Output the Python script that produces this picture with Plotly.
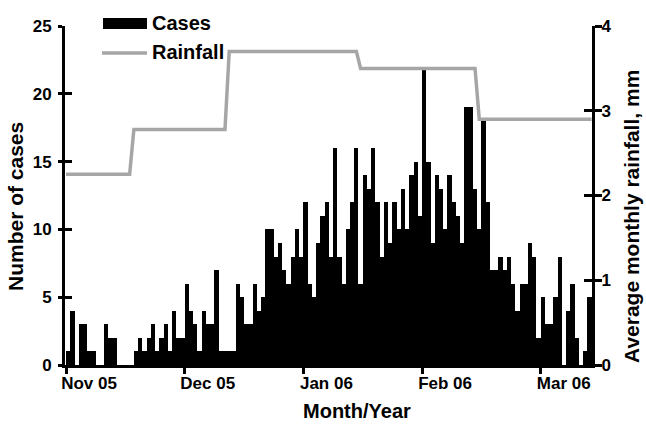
import plotly.graph_objects as go

# ---------------- data ----------------
day = list(range(124))  # daily categories (index of day in the series)
cases = [
    1, 4, 0, 3, 3, 1, 1, 0, 0, 3, 2, 2, 0, 0, 0, 0, 1, 2, 1, 2,
    3, 1, 2, 3, 1, 4, 2, 2, 6, 4, 3, 1, 4, 3, 3, 7, 1, 1, 1, 1,
    6, 5, 3, 3, 6, 4, 5, 10, 10, 8, 9, 7, 6, 8, 10, 8, 12, 6, 5, 9,
    11, 12, 8, 16, 8, 6, 10, 12, 16, 6, 14, 13, 16, 12, 8, 12, 9, 12, 10, 13,
    10, 14, 15, 11, 22, 15, 9, 14, 13, 10, 14, 12, 11, 9, 19, 19, 13, 10, 18, 12,
    7, 7, 8, 7, 8, 6, 4, 6, 6, 9, 8, 2, 5, 3, 3, 5, 8, 0, 4, 6,
    2, 0, 1, 5,
]
tick_day = [0, 28, 56, 84, 112]
tick_label = ["Nov 05", "Dec 05", "Jan 06", "Feb 06", "Mar 06"]
rain_level = [2.25, 2.78, 3.70, 3.50, 2.90]      # average monthly rainfall, mm
rain_change_day = [14.5, 37, 68, 96]            # day where the level changes

# step line for rainfall built from the monthly levels
rx = [day[0] - 0.5]
ry = [rain_level[0]]
for k, d in enumerate(rain_change_day):
    rx += [d, d + 1]
    ry += [rain_level[k], rain_level[k + 1]]
rx.append(day[-1] + 0.5)
ry.append(rain_level[-1])

# ---------------- figure ----------------
FONT = "Liberation Sans, Arial, sans-serif"
tf = dict(family=FONT, size=17, color="black", weight="bold")

fig = go.Figure()
fig.add_trace(go.Bar(x=day, y=cases, name="Cases",
                     marker=dict(color="black", line=dict(width=0)),
                     showlegend=False))
fig.add_trace(go.Scatter(x=rx, y=ry, yaxis="y2", mode="lines", name="Rainfall",
                         line=dict(color="#a6a6a6", width=3.5),
                         showlegend=False))
# helper (empty) traces so the inward tick overlays are drawn
fig.add_trace(go.Scatter(x=[None], y=[None], yaxis="y3", showlegend=False, hoverinfo="skip"))
fig.add_trace(go.Scatter(x=[None], y=[None], yaxis="y4", showlegend=False, hoverinfo="skip"))

PL, PR, PT, PB = 65, 592, 26, 365
def px(x):
    return (x - PL) / (PR - PL)
def py(y):
    return (PB - y) / (PB - PT)

axis_common = dict(showgrid=False, zeroline=False, tickcolor="black", tickwidth=3)

fig.update_layout(
    width=646, height=427,
    margin=dict(l=PL, r=646 - PR, t=PT, b=427 - PB),
    plot_bgcolor="white", paper_bgcolor="white",
    bargap=0, showlegend=False,
    xaxis=dict(range=[-0.75, 123.6], tickmode="array",
               tickvals=[d - 0.5 for d in tick_day], ticktext=tick_label,
               ticks="outside", ticklen=6, showline=True, linewidth=3,
               linecolor="black", ticklabelshift=23, ticklabelstandoff=-5,
               tickfont=tf, **axis_common),
    yaxis=dict(range=[0, 25], tick0=0, dtick=5, ticks="outside", ticklen=4,
               showline=True, linewidth=3, linecolor="black", tickfont=tf,
               ticklabelstandoff=3, **axis_common),
    yaxis2=dict(range=[0, 4], tick0=0, dtick=1, overlaying="y", side="right",
                anchor="x", ticks="outside", ticklen=7, showline=True,
                linewidth=3, linecolor="black", tickfont=tf,
                ticklabelstandoff=-4, **axis_common),
    yaxis3=dict(range=[0, 25], tick0=0, dtick=5, overlaying="y", side="left",
                anchor="x", ticks="inside", ticklen=7, showticklabels=False,
                showline=False, **axis_common),
    yaxis4=dict(range=[0, 4], tick0=0, dtick=1, overlaying="y", side="right",
                anchor="x", ticks="inside", ticklen=8, showticklabels=False,
                showline=False, **axis_common),
)

title_font = dict(family=FONT, size=21, color="black", weight="bold")
fig.add_annotation(text="Number of cases", textangle=-90, xref="paper", yref="paper",
                   x=px(15), y=py(207), showarrow=False, font=title_font,
                   xanchor="center", yanchor="middle")
fig.add_annotation(text="Average monthly rainfall, mm", textangle=-90, xref="paper",
                   yref="paper", x=px(631), y=py(217), showarrow=False,
                   font=title_font, xanchor="center", yanchor="middle")
fig.add_annotation(text="Month/Year", xref="paper", yref="paper", x=px(357), y=py(411),
                   showarrow=False, font=dict(family=FONT, size=20, color="black", weight="bold"),
                   xanchor="center", yanchor="middle")

# legend (drawn manually to match the wide swatches)
fig.add_shape(type="rect", xref="paper", yref="paper", x0=px(103), x1=px(147),
              y0=py(29), y1=py(18), fillcolor="black", line=dict(width=0))
fig.add_shape(type="line", xref="paper", yref="paper", x0=px(102), x1=px(147),
              y0=py(53), y1=py(53), line=dict(color="#a6a6a6", width=3.5))
leg_font = dict(family=FONT, size=20, color="black", weight="bold")
fig.add_annotation(text="Cases", xref="paper", yref="paper", x=px(150), y=py(23),
                   showarrow=False, font=leg_font, xanchor="left", yanchor="middle")
fig.add_annotation(text="Rainfall", xref="paper", yref="paper", x=px(150), y=py(52),
                   showarrow=False, font=leg_font, xanchor="left", yanchor="middle")

fig.write_html("out.html", config={"displayModeBar": False},
               post_script="document.body.style.margin='0';document.body.style.overflow='hidden';")
